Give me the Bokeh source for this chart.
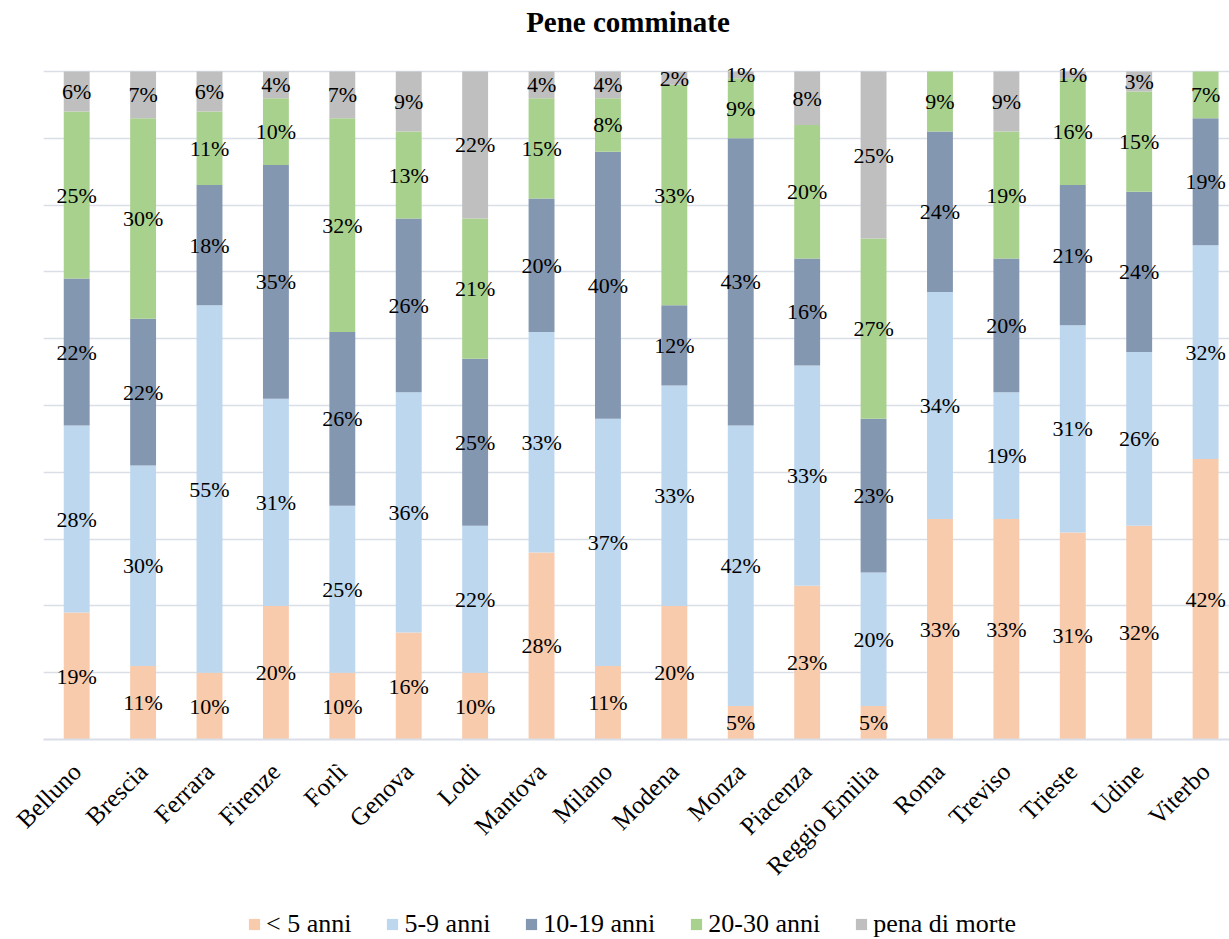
import numpy as np
from bokeh.plotting import figure
from bokeh.layouts import column
from bokeh.models import ColumnDataSource, Range1d, FixedTicker, Label
from bokeh.embed import file_html
from bokeh.resources import INLINE
from bokeh.core.properties import value

# Sentences handed down, share of each length band per city (%)
cities = ["Belluno", "Brescia", "Ferrara", "Firenze", "Forlì", "Genova", "Lodi",
          "Mantova", "Milano", "Modena", "Monza", "Piacenza", "Reggio Emilia",
          "Roma", "Treviso", "Trieste", "Udine", "Viterbo"]
under_5 = [19, 11, 10, 20, 10, 16, 10, 28, 11, 20, 5, 23, 5, 33, 33, 31, 32, 42]
from_5_to_9 = [28, 30, 55, 31, 25, 36, 22, 33, 37, 33, 42, 33, 20, 34, 19, 31, 26, 32]
from_10_to_19 = [22, 22, 18, 35, 26, 26, 25, 20, 40, 12, 43, 16, 23, 24, 20, 21, 24, 19]
from_20_to_30 = [25, 30, 11, 10, 32, 13, 21, 15, 8, 33, 9, 20, 27, 9, 19, 16, 15, 7]
death_penalty = [6, 7, 6, 4, 7, 9, 22, 4, 4, 2, 1, 8, 25, 0, 9, 1, 3, 0]

series_names = ["< 5 anni", "5-9 anni", "10-19 anni", "20-30 anni", "pena di morte"]
series_keys = ["under_5", "from_5_to_9", "from_10_to_19", "from_20_to_30", "death_penalty"]
series_values = [under_5, from_5_to_9, from_10_to_19, from_20_to_30, death_penalty]
colors = ["#F8CBAD", "#BDD7EE", "#8497B0", "#A9D18E", "#BFBFBF"]

FONT = "Liberation Serif"
GRID = "#D9DEE7"

WIDTH = 1229
MAIN_H = 895          # chart part; the legend strip fills the rest
LEGEND_H = 939 - MAIN_H
PLOT_BOTTOM = 739     # pixel row of the 0% line
PLOT_TOP = 71         # pixel row of the 100% line
px_per_pct = (PLOT_BOTTOM - PLOT_TOP) / 100.0
y_top = PLOT_BOTTOM / px_per_pct   # frame reaches the top edge, room for the title

n = len(cities)
xs = list(range(n))
data = {"x": xs}
for key, vals in zip(series_keys, series_values):
    data[key] = vals
source = ColumnDataSource(data)

# label positions: middle of every non-empty segment
lx, ly, lt = [], [], []
bottom = np.zeros(n)
for vals in series_values:
    arr = np.array(vals, dtype=float)
    for i in range(n):
        if arr[i] > 0:
            lx.append(i)
            ly.append(bottom[i] + arr[i] / 2)
            lt.append(f"{int(arr[i])}%")
    bottom += arr
labels = ColumnDataSource(dict(x=lx, y=ly, text=lt))

x_start, x_end = -0.5, 17.36
p = figure(width=WIDTH, height=MAIN_H, output_backend="svg", toolbar_location=None,
           x_range=Range1d(x_start, x_end), y_range=Range1d(0, y_top),
           min_border_left=43, min_border_right=0, min_border_top=0,
           min_border_bottom=MAIN_H - PLOT_BOTTOM, outline_line_color=None)

p.vbar_stack(series_keys, x="x", width=0.39, color=colors, source=source,
             line_width=0)

p.text(x="x", y="y", text="text", source=labels,
       text_font=value(FONT), text_font_size=value("22px"),
       text_align="center", text_baseline="middle", text_color="black")

# chart title near the top edge
px_per_unit_x = (WIDTH - 43) / (x_end - x_start)
title = Label(x=x_start + (627.5 - 43) / px_per_unit_x,
              y=(PLOT_BOTTOM - 21) / px_per_pct,
              text="Pene comminate", text_font=FONT, text_font_size="29px",
              text_font_style="bold", text_color="black",
              text_align="center", text_baseline="alphabetic")
p.add_layout(title)

p.yaxis.visible = False
p.xgrid.visible = False
p.ygrid.ticker = FixedTicker(ticks=list(range(0, 101, 10)))
p.ygrid.grid_line_color = GRID
p.ygrid.grid_line_width = 1.5

xa = p.xaxis[0]
xa.ticker = FixedTicker(ticks=xs)
xa.major_label_overrides = {i: c for i, c in enumerate(cities)}
xa.major_label_orientation = np.pi / 4
xa.major_label_text_font = FONT
xa.major_label_text_font_size = "25px"
xa.major_label_text_color = "black"
xa.major_label_standoff = 22
xa.major_tick_line_color = None
xa.minor_tick_line_color = None
xa.axis_line_color = GRID
xa.axis_line_width = 2

# legend strip under the chart; each swatch renderer holds one flat bar
leg = figure(width=WIDTH, height=LEGEND_H, output_backend="svg", toolbar_location=None,
             x_range=Range1d(0, 1), y_range=Range1d(0, 1),
             min_border=0, outline_line_color=None)
leg.axis.visible = False
leg.grid.visible = False
for name, c in zip(series_names, colors):
    leg.vbar(x=[0.5], top=[0], bottom=[0], width=0.5, fill_color=c,
             line_color=None, legend_label=name)
lg = leg.legend[0]
lg.orientation = "horizontal"
lg.location = (204, 0)
lg.background_fill_alpha = 0
lg.border_line_color = None
lg.label_text_font = FONT
lg.label_text_font_size = "26px"
lg.label_text_color = "black"
lg.glyph_width = 14
lg.glyph_height = 14
lg.label_standoff = 5
lg.spacing = 34
lg.padding = 0
lg.margin = 0

layout = column(p, leg, spacing=0)
open("out.html", "w").write(file_html(layout, INLINE))
